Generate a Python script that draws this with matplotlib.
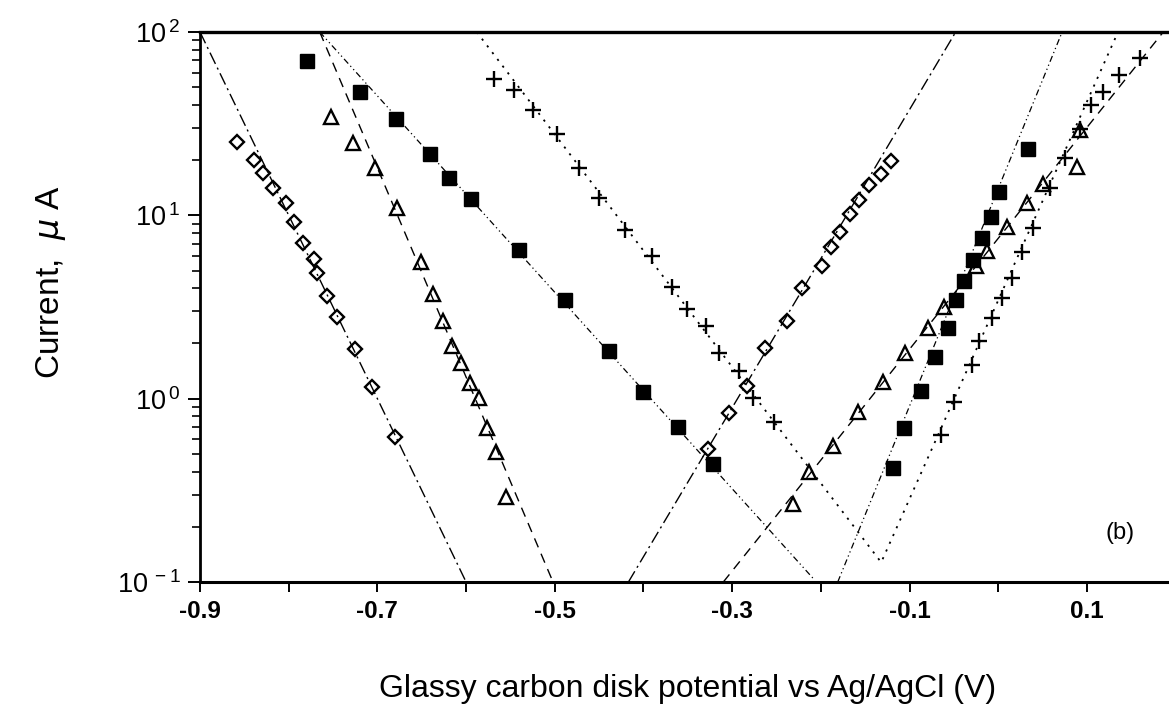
import matplotlib
matplotlib.use("Agg")
import matplotlib.pyplot as plt
from matplotlib.ticker import FixedLocator, LogLocator, NullFormatter

plt.rcParams['font.family'] = ['Liberation Sans', 'DejaVu Sans']
plt.rcParams['mathtext.fontset'] = 'custom'
plt.rcParams['mathtext.rm'] = 'Liberation Sans'
plt.rcParams['mathtext.it'] = 'DejaVu Sans:italic'

# ---------------- data (E in V vs Ag/AgCl, current in uA) ----------------
# open diamonds
dia_cath_E = [-0.858, -0.839, -0.829, -0.818, -0.803, -0.794, -0.784, -0.771,
              -0.768, -0.757, -0.746, -0.725, -0.706, -0.680]
dia_cath_I = [25.1, 20.1, 17.0, 14.1, 11.7, 9.2, 7.07, 5.78, 4.85, 3.63, 2.79,
              1.87, 1.16, 0.618]
dia_anod_E = [-0.327, -0.304, -0.283, -0.263, -0.238, -0.221, -0.199, -0.189,
              -0.178, -0.167, -0.157, -0.146, -0.132, -0.121]
dia_anod_I = [0.532, 0.836, 1.17, 1.89, 2.65, 4.02, 5.30, 6.72, 8.12, 10.2,
              12.1, 14.6, 16.8, 19.8]

# open triangles
tri_cath_E = [-0.752, -0.728, -0.703, -0.678, -0.651, -0.637, -0.626, -0.616,
              -0.606, -0.596, -0.585, -0.576, -0.566, -0.555]
tri_cath_I = [34.4, 24.8, 18.1, 11.0, 5.57, 3.73, 2.65, 1.94, 1.57, 1.22, 1.01,
              0.692, 0.512, 0.291]
tri_anod_E = [-0.231, -0.213, -0.186, -0.158, -0.130, -0.105, -0.079, -0.061,
              -0.025, -0.013, 0.010, 0.032, 0.050, 0.089, 0.092]
tri_anod_I = [0.266, 0.398, 0.552, 0.846, 1.23, 1.78, 2.43, 3.17, 5.30, 6.39,
              8.65, 11.7, 14.8, 18.4, 29.2]

# filled squares
sq_cath_E = [-0.779, -0.720, -0.679, -0.641, -0.619, -0.594, -0.540, -0.489,
             -0.439, -0.401, -0.361, -0.322]
sq_cath_I = [69.6, 47.1, 33.6, 21.6, 16.0, 12.3, 6.47, 3.46, 1.82, 1.09, 0.701,
             0.440]
sq_anod_E = [-0.119, -0.106, -0.087, -0.071, -0.057, -0.048, -0.039, -0.029,
             -0.018, -0.008, 0.001, 0.034]
sq_anod_I = [0.419, 0.692, 1.10, 1.69, 2.43, 3.46, 4.39, 5.71, 7.53, 9.80,
             13.4, 23.0]

# plus signs
plus_cath_E = [-0.569, -0.546, -0.525, -0.498, -0.473, -0.450, -0.421, -0.390,
               -0.368, -0.351, -0.330, -0.315, -0.292, -0.277, -0.253]
plus_cath_I = [55.5, 48.3, 37.6, 27.8, 18.1, 12.4, 8.32, 6.00, 4.07, 3.09,
               2.49, 1.78, 1.42, 1.01, 0.746]
plus_anod_E = [-0.065, -0.050, -0.030, -0.022, -0.007, 0.004, 0.015, 0.027,
               0.039, 0.058, 0.075, 0.092, 0.105, 0.118, 0.136, 0.160]
plus_anod_I = [0.634, 0.959, 1.53, 2.06, 2.76, 3.54, 4.56, 6.31, 8.54, 14.1,
               20.6, 29.6, 40.0, 47.1, 58.3, 72.2]

# Tafel fit lines (end points, E in V, I in uA)
fit_dia_cath_E, fit_dia_cath_I = [-0.900, -0.600], [100, 0.1]
fit_dia_anod_E, fit_dia_anod_I = [-0.417, -0.048], [0.1, 100]
fit_tri_cath_E, fit_tri_cath_I = [-0.765, -0.502], [100, 0.1]
fit_tri_anod_E, fit_tri_anod_I = [-0.310, 0.186], [0.1, 100]
fit_sq_cath_E, fit_sq_cath_I = [-0.765, -0.209], [100, 0.105]
fit_sq_anod_E, fit_sq_anod_I = [-0.181, 0.072], [0.1, 100]
fit_plus_E, fit_plus_I = [-0.588, -0.132, 0.135], [100, 0.128, 100]

xtick_values = [-0.9, -0.8, -0.7, -0.6, -0.5, -0.4, -0.3, -0.2, -0.1, 0.0, 0.1]
xtick_labels = ['-0.9', '', '-0.7', '', '-0.5', '', '-0.3', '', '-0.1', '', '0.1']
ytick_values = [0.1, 1, 10, 100]
ytick_labels = [r'$\mathregular{10^{\,-1}}$', r'$\mathregular{10^{\,0}}$',
                r'$\mathregular{10^{\,1}}$', r'$\mathregular{10^{\,2}}$']

# ---------------- figure ----------------
fig = plt.figure(figsize=(11.69, 7.23), dpi=100)
ax = fig.add_axes([0.1711, 0.195, 0.8346, 0.7607])
ax.set_yscale('log')
ax.set_xlim(-0.9, 0.2)
ax.set_ylim(0.1, 100)

lw = 1.0
s_dia = (0, (9, 3, 1.5, 3))
s_tri = (0, (7, 5))
s_sq = (0, (5, 2.5, 1, 2.5, 1, 2.5))
s_plus = (0, (1.2, 3.5))
ax.plot(fit_dia_cath_E, fit_dia_cath_I, color='k', lw=lw, ls=s_dia)
ax.plot(fit_dia_anod_E, fit_dia_anod_I, color='k', lw=lw, ls=s_dia)
ax.plot(fit_tri_cath_E, fit_tri_cath_I, color='k', lw=lw, ls=s_tri)
ax.plot(fit_tri_anod_E, fit_tri_anod_I, color='k', lw=lw, ls=s_tri)
ax.plot(fit_sq_cath_E, fit_sq_cath_I, color='k', lw=lw * 0.9, ls=s_sq)
ax.plot(fit_sq_anod_E, fit_sq_anod_I, color='k', lw=lw * 0.9, ls=s_sq)
ax.plot(fit_plus_E, fit_plus_I, color='k', lw=lw * 1.3, ls=s_plus)

mk = dict(ls='none', color='k')
for E, I in [(dia_cath_E, dia_cath_I), (dia_anod_E, dia_anod_I)]:
    ax.plot(E, I, marker='D', ms=7.5, mfc='none', mec='k', mew=1.7, **mk)
for E, I in [(tri_cath_E, tri_cath_I), (tri_anod_E, tri_anod_I)]:
    ax.plot(E, I, marker='^', ms=10.5, mfc='none', mec='k', mew=1.7, **mk)
for E, I in [(sq_cath_E, sq_cath_I), (sq_anod_E, sq_anod_I)]:
    ax.plot(E, I, marker='s', ms=9.5, mfc='k', mec='k', mew=1.0, **mk)
for E, I in [(plus_cath_E, plus_cath_I), (plus_anod_E, plus_anod_I)]:
    ax.plot(E, I, marker='+', ms=11, mew=1.7, **mk)

# axes styling
ax.spines['left'].set_linewidth(2.0)
ax.spines['bottom'].set_linewidth(2.2)
ax.spines['top'].set_linewidth(2.4)
ax.spines['right'].set_visible(False)

ax.xaxis.set_major_locator(FixedLocator(xtick_values))
ax.set_xticklabels(xtick_labels, fontsize=17.5, fontweight='bold')
ax.tick_params(axis='x', which='major', direction='out', length=7, width=1.4,
               pad=6, top=False)
ax.tick_params(axis='x', which='minor', bottom=False, top=False)

ax.yaxis.set_major_locator(FixedLocator(ytick_values))
ax.set_yticklabels(ytick_labels, fontsize=19.5)
ax.yaxis.set_minor_locator(LogLocator(base=10, subs=range(2, 10)))
ax.yaxis.set_minor_formatter(NullFormatter())
ax.tick_params(axis='y', which='major', direction='out', length=9, width=1.4,
               pad=5, right=False)
ax.tick_params(axis='y', which='minor', direction='out', length=6, width=1.2,
               right=False)

ax.set_xlabel('Glassy carbon disk potential vs Ag/AgCl (V)', fontsize=23)
ax.xaxis.set_label_coords(0.5, -0.168)
ax.set_ylabel(r'Current,  $\mu$ A', fontsize=24)
ax.yaxis.set_label_coords(-0.135, 0.545)

ax.text(0.943, 0.089, '(b)', transform=ax.transAxes, fontsize=17,
        ha='center', va='center')

fig.savefig('out.png', dpi=100)
